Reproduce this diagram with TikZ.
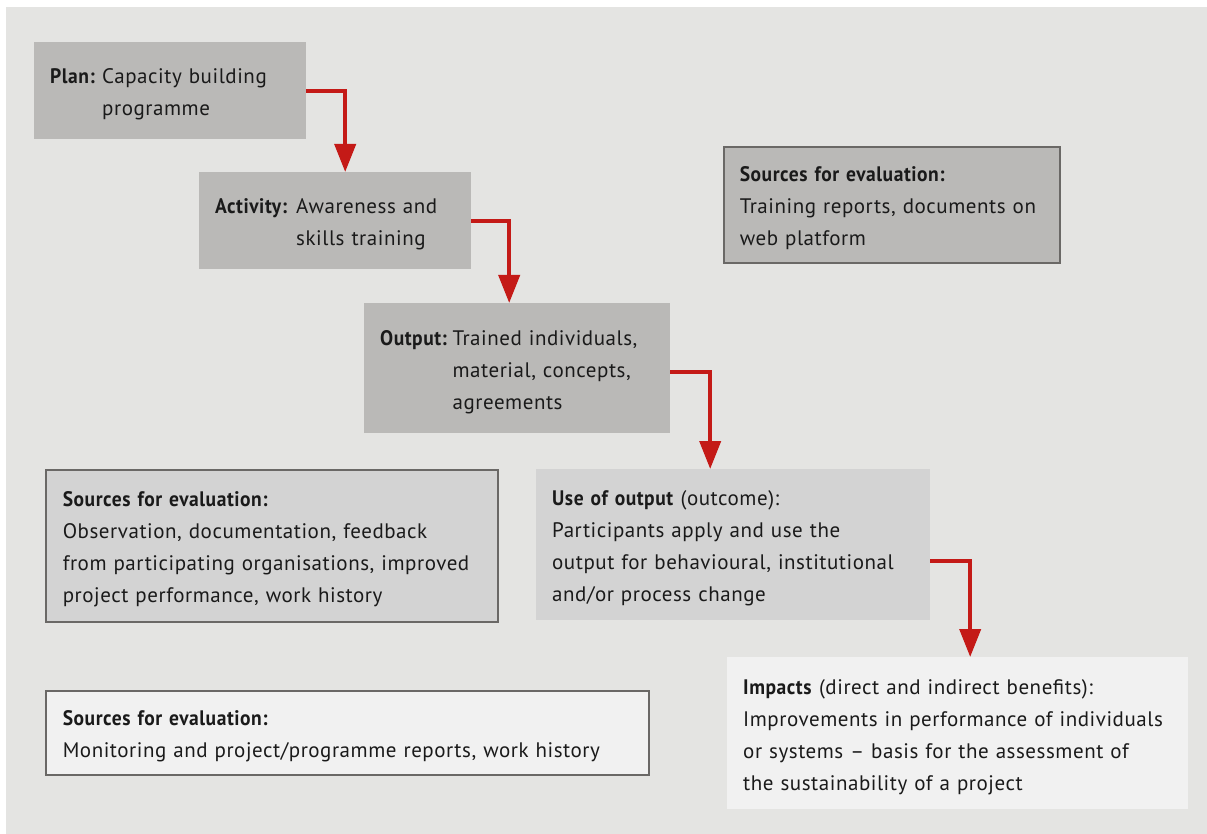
\documentclass[tikz,border=0pt]{standalone}
\usepackage{fontspec}
\setmainfont{PT Sans}[LetterSpace=2.6, BoldFeatures={FakeStretch=0.93}]
\usetikzlibrary{arrows.meta}
\definecolor{panel}{HTML}{E4E4E2}
\definecolor{dark}{HTML}{BAB9B7}
\definecolor{mid}{HTML}{D3D3D3}
\definecolor{light}{HTML}{F1F1F1}
\definecolor{edge}{HTML}{6A6866}
\definecolor{ink}{HTML}{1A1A1A}
\definecolor{arrred}{HTML}{C41A17}
\newcommand{\lowtext}[2]{\raisebox{0pt}[\height][\dimexpr\depth-5pt\relax]{\begin{tabular}{@{}#1@{}}#2\end{tabular}}}
\newlength\lblw
\newcommand{\lbl}[2]{\settowidth{\lblw}{\textbf{#2}}\addtolength{\lblw}{5pt}%
  \ifdim\lblw<#1\relax\setlength{\lblw}{#1}\fi\makebox[\lblw][l]{\textbf{#2}}}
\tikzset{
  box/.style={anchor=north west, inner xsep=16pt, inner ysep=0pt, align=left,
    text=ink, font=\fontsize{21}{32}\selectfont},
  framed/.style={box, draw=edge, line width=1.6pt},
  flow/.style={draw=arrred, line width=4pt, line join=miter,
    -{Triangle[length=28pt,width=21pt]}}
}
\begin{document}
\begin{tikzpicture}[x=1pt,y=-1pt]
\useasboundingbox (0,0) rectangle (1207,834);
\fill[white] (0,0) rectangle (1207,834);
\fill[panel] (6,7) rectangle (1207,834);

\node[box, fill=dark, minimum width=272pt, minimum height=97pt, text width=240pt] (plan) at (34,42)
  {\lowtext{l@{}l}{\lbl{52pt}{Plan:} & Capacity building\\ & programme}};
\node[box, fill=dark, minimum width=272pt, minimum height=97pt, text width=240pt] (act) at (199,172)
  {\lowtext{l@{}l}{\lbl{81pt}{Activity:} & Awareness and\\ & skills training}};
\node[box, fill=dark, minimum width=306pt, minimum height=130pt, text width=274pt] (out) at (364,303)
  {\lowtext{l@{}l}{\lbl{72pt}{Output:} & Trained individuals,\\ & material, concepts,\\ & agreements}};
\node[framed, fill=dark, minimum width=336pt, minimum height=116pt, text width=304pt] (src1) at (723,146)
  {\lowtext{l}{\textbf{Sources for evaluation:}\\Training reports, documents on\\web platform}};
\node[box, fill=mid, minimum width=394pt, minimum height=151pt, text width=362pt] (use) at (536,469)
  {\lowtext{l}{\textbf{Use of output} (outcome):\\Participants apply and use the\\output for behavioural, institutional\\and/or process change}};
\node[framed, fill=mid, minimum width=452pt, minimum height=152pt, text width=418pt] (src2) at (45,469)
  {\lowtext{l}{\textbf{Sources for evaluation:}\\Observation, documentation, feedback\\from participating organisations, improved\\project performance, work history}};
\node[box, fill=light, minimum width=461pt, minimum height=152pt, text width=429pt] (imp) at (727,657)
  {\lowtext{l}{\textbf{Impacts} (direct and indirect benefits):\\Improvements in performance of individuals\\or systems – basis for the assessment of\\the sustainability of a project}};
\node[framed, fill=light, minimum width=603pt, minimum height=84pt, text width=569pt] (src3) at (45,690)
  {\lowtext{l}{\textbf{Sources for evaluation:}\\Monitoring and project/programme reports, work history}};

\draw[flow] (plan.east) -| ([xshift=10pt]act.north);
\draw[flow] (act.east) -| ([xshift=-8pt]out.north);
\draw[flow] ([yshift=-4pt]out.east) -| ([xshift=-23pt]use.north);
\draw[flow] ([yshift=-16pt]use.east) -| ([xshift=12.5pt]imp.north);
\end{tikzpicture}
\end{document}
